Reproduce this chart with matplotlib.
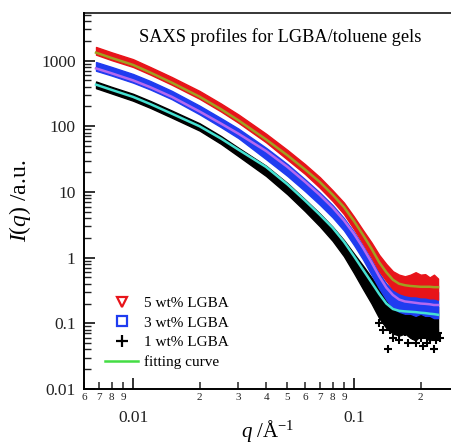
import matplotlib
matplotlib.use("Agg")
import matplotlib.pyplot as plt
from matplotlib.lines import Line2D
from matplotlib.ticker import FixedLocator, FixedFormatter, NullFormatter

# ---------------- data ----------------
q = [0.0068, 0.008, 0.01, 0.012, 0.015, 0.02, 0.025, 0.03, 0.04, 0.05, 0.06,
     0.07, 0.08, 0.09, 0.1, 0.11, 0.12, 0.13, 0.14, 0.15, 0.16, 0.17, 0.18,
     0.19, 0.2, 0.21, 0.22, 0.23, 0.24]

# fitting curves
fit5 = [1320, 1095, 860, 655, 460, 282, 182, 123, 63, 36, 22, 14.2, 9.1, 5.9,
        3.6, 2.2, 1.37, 0.85, 0.60, 0.46, 0.40, 0.38, 0.37, 0.365, 0.36, 0.36,
        0.36, 0.355, 0.355]
fit3 = [760, 640, 500, 392, 280, 168, 110, 77, 42, 24, 14.3, 9.0, 5.8, 3.7, 2.3,
        1.4, 0.85, 0.52, 0.35, 0.27, 0.23, 0.215, 0.21, 0.205, 0.2, 0.198, 0.195,
        0.19, 0.19]
fit1 = [430, 358, 280, 217, 155, 100, 65, 44, 24, 13, 7.4, 4.5, 2.85, 1.75,
        1.05, 0.65, 0.42, 0.28, 0.2, 0.165, 0.155, 0.152, 0.15, 0.148, 0.145,
        0.143, 0.14, 0.138, 0.135]

# measured data: upper / lower envelope of the dense symbol band
d5_hi = [1610, 1335, 1050, 795, 560, 345, 222, 151, 77, 43.5, 26.5, 16.8, 10.6,
         6.9, 4.2, 2.6, 1.7, 1.1, 0.8, 0.62, 0.55, 0.52, 0.55, 0.6, 0.55, 0.56,
         0.5, 0.55, 0.48]
d5_lo = [1230, 1015, 800, 610, 428, 262, 168, 113, 57, 31, 18.8, 11.6, 7.3, 4.6,
         2.7, 1.62, 1.0, 0.62, 0.44, 0.33, 0.29, 0.27, 0.26, 0.26, 0.25, 0.25,
         0.24, 0.24, 0.23]
d3_hi = [950, 800, 625, 487, 345, 206, 133, 92, 47, 26.5, 15.6, 9.8, 6.3, 4.0,
         2.45, 1.5, 0.92, 0.58, 0.4, 0.32, 0.3, 0.28, 0.3, 0.29, 0.31, 0.28, 0.3,
         0.3, 0.3]
d3_lo = [700, 592, 462, 362, 258, 152, 97, 66, 31.5, 17.5, 10.3, 6.4, 4.1, 2.6,
         1.55, 0.93, 0.55, 0.34, 0.23, 0.17, 0.15, 0.14, 0.14, 0.13, 0.14, 0.13,
         0.13, 0.12, 0.12]
d1_hi = [480, 398, 312, 242, 173, 111, 71, 47, 25, 13.6, 7.7, 4.7, 2.95, 1.85,
         1.15, 0.75, 0.5, 0.34, 0.25, 0.2, 0.19, 0.18, 0.2, 0.17, 0.19, 0.18,
         0.2, 0.17, 0.18]
d1_lo = [380, 316, 245, 190, 135, 86, 54, 35, 17.5, 9.2, 5.1, 3.0, 1.8, 1.05,
         0.58, 0.33, 0.2, 0.12, 0.085, 0.07, 0.065, 0.07, 0.06, 0.055, 0.065,
         0.06, 0.055, 0.06, 0.06]
# scattered 1 wt% points in the noisy tail
tail1_q = [0.142, 0.229, 0.15, 0.16, 0.17, 0.175, 0.185, 0.19, 0.2, 0.205, 0.21,
           0.215, 0.22, 0.235, 0.24, 0.245, 0.13, 0.135, 0.145, 0.155, 0.165,
           0.2, 0.225]
tail1_I = [0.041, 0.041, 0.06, 0.055, 0.075, 0.05, 0.065, 0.05, 0.06, 0.045,
           0.07, 0.05, 0.06, 0.055, 0.07, 0.06, 0.1, 0.08, 0.08, 0.09, 0.1,
           0.08, 0.09]

labels = ["5 wt% LGBA", "3 wt% LGBA", "1 wt% LGBA", "fitting curve"]
x_major = [0.01, 0.1]
x_major_labels = ["0.01", "0.1"]
x_minor = [0.006, 0.007, 0.008, 0.009, 0.02, 0.03, 0.04, 0.05, 0.06, 0.07,
           0.08, 0.09, 0.2]
x_minor_labels = ["6", "7", "8", "9", "2", "3", "4", "5", "6", "7", "8", "9", "2"]
y_major = [0.01, 0.1, 1, 10, 100, 1000]
y_major_labels = ["0.01", "0.1", "1", "10", "100", "1000"]

# ---------------- style ----------------
plt.rcParams["font.family"] = ["Liberation Serif", "DejaVu Serif"]
plt.rcParams["mathtext.fontset"] = "custom"
plt.rcParams["mathtext.rm"] = "Liberation Serif"
plt.rcParams["mathtext.it"] = "Liberation Serif:italic"

RED = "#e8141a"
BLUE = "#1f3cf0"
BLACK = "#000000"
OLIVE = "#a0a020"
VIOLET = "#b469f0"
CYAN = "#45e0d2"
GREEN = "#44dd44"

fig = plt.figure(figsize=(4.52, 4.46), dpi=100)
ax = fig.add_axes([84 / 452, 1 - 389 / 446, 1 - 84 / 452, (389 - 13) / 446])
ax.set_xscale("log")
ax.set_yscale("log")
ax.set_xlim(0.006, 0.2776)
ax.set_ylim(0.01, 5300)

# data bands
ax.fill_between(q, d1_lo, d1_hi, color=BLACK, lw=1.0, zorder=2)
ax.plot(tail1_q, tail1_I, "+", color=BLACK, ms=6, mew=1.5, zorder=2)
ax.fill_between(q, d3_lo, d3_hi, color=BLUE, lw=1.0, zorder=3)
ax.fill_between(q, d5_lo, d5_hi, color=RED, lw=1.0, zorder=4)

# fits
ax.plot(q, fit5, color=OLIVE, lw=1.8, zorder=6)
ax.plot(q, fit3, color=VIOLET, lw=1.8, zorder=6)
ax.plot(q, fit1, color=CYAN, lw=1.8, zorder=6)

# axes cosmetics
for s in ["left", "bottom"]:
    ax.spines[s].set_linewidth(1.4)
ax.spines["top"].set_linewidth(1.1)
ax.spines["right"].set_visible(False)

ax.xaxis.set_major_locator(FixedLocator(x_major))
ax.xaxis.set_major_formatter(FixedFormatter(x_major_labels))
ax.xaxis.set_minor_locator(FixedLocator(x_minor))
ax.xaxis.set_minor_formatter(FixedFormatter(x_minor_labels))
ax.yaxis.set_major_locator(FixedLocator(y_major))
ax.yaxis.set_major_formatter(FixedFormatter(y_major_labels))
ymin = [m * b for b in [0.01, 0.1, 1, 10, 100, 1000] for m in range(2, 10)]
ax.yaxis.set_minor_locator(FixedLocator(ymin))
ax.yaxis.set_minor_formatter(NullFormatter())

ax.tick_params(which="both", direction="in", top=False, right=False, colors="#222222")
ax.tick_params(axis="x", which="major", length=8, width=1.3, pad=15, labelsize=12.5)
ax.tick_params(axis="x", which="minor", length=5, width=1.1, pad=3, labelsize=8)
ax.tick_params(axis="y", which="major", length=8, width=1.3, pad=6, labelsize=12.5)
ax.tick_params(axis="y", which="minor", length=5, width=1.0)

ax.set_xlabel(r"$q$ /Å$^{-1}$", fontsize=15, labelpad=-5.5)
ax.set_ylabel(r"$I$($q$) /a.u.", fontsize=17, labelpad=6)

ax.text(0.533, 0.937, "SAXS profiles for LGBA/toluene gels", transform=ax.transAxes,
        ha="center", va="center", fontsize=13.2)

handles = [
    Line2D([], [], ls="none", marker="v", mfc="white", mec=RED, mew=1.6, ms=7),
    Line2D([], [], ls="none", marker="s", mfc="white", mec=BLUE, mew=1.6, ms=6.5),
    Line2D([], [], ls="none", marker="+", color=BLACK, mew=1.6, ms=8),
    Line2D([], [], color=GREEN, lw=1.8),
]
ax.legend(handles, labels, loc="upper left", bbox_to_anchor=(0.04, 0.262),
          frameon=False, fontsize=11, handlelength=2.2, handletextpad=0.35,
          labelspacing=0.38, borderaxespad=0.0)

fig.savefig("out.png", dpi=100)
